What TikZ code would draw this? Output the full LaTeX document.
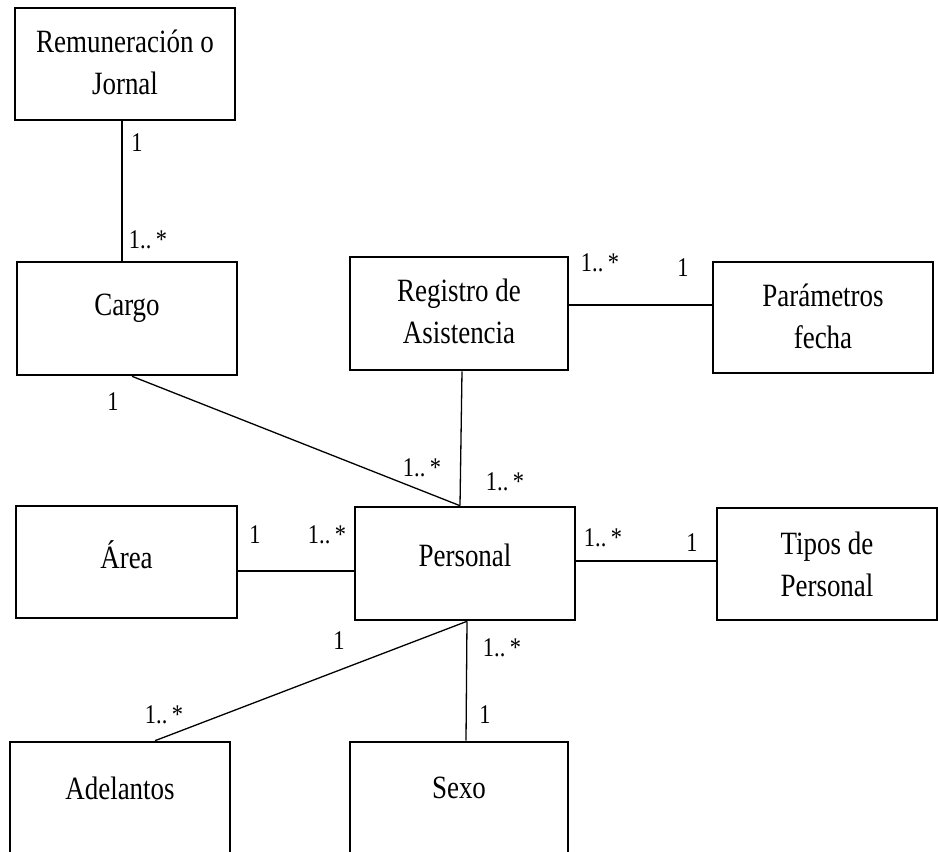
\documentclass[tikz,border=0pt]{standalone}
\usepackage{fontspec}
\newfontfamily\tnr[FakeStretch=0.83]{Liberation Serif}
\begin{document}
\begin{tikzpicture}[x=1pt,y=-1pt,
  ent/.style={draw, line width=2.6pt, inner sep=0pt, minimum width=220pt, minimum height=112pt},
  txt/.style={inner sep=0pt, align=center, font=\tnr\fontsize{32.5}{42}\selectfont},
  mult/.style={inner sep=0pt, font=\tnr\fontsize{27}{30}\selectfont},
  conn/.style={line width=1.3pt}]
\useasboundingbox (0,0) rectangle (938,852);
% boxes
\node[ent] (rem) at (125,64) {};
\node[ent, minimum height=113pt] (cargo) at (127,318.5) {};
\node[ent, minimum width=218pt, minimum height=113pt] (reg) at (459,313.5) {};
\node[ent, minimum height=111pt] (par) at (823,317.5) {};
\node[ent, minimum width=221pt] (area) at (126.5,562) {};
\node[ent, minimum height=113pt] (pers) at (465,563.5) {};
\node[ent] (tipos) at (827,564) {};
\node[ent, minimum height=138pt] (adel) at (120,811) {};
\node[ent, minimum width=218pt, minimum height=138pt] (sexo) at (459,811) {};
% texts
\node[txt] (trem) at (125,62) {Remuneración o\\Jornal};
\node[txt] (tcargo) at (127,308) {Cargo};
\node[txt] (treg) at (459,311) {Registro de\\Asistencia};
\node[txt] (tpar) at (823,316) {Parámetros\\fecha};
\node[txt] (tarea) at (126.5,555) {Área};
\node[txt] (tpers) at (465,555) {Personal};
\node[txt] (ttipos) at (827,564) {Tipos de\\Personal};
\node[txt] (tadel) at (120,788) {Adelantos};
\node[txt] (tsexo) at (459,788) {Sexo};
% connectors
\draw[conn] ([xshift=-3pt]rem.south) -- ([xshift=-5pt]cargo.north);
\draw[conn] ([xshift=5pt]cargo.south) -- ([xshift=-5pt]pers.north);
\draw[conn] ([xshift=3pt]reg.south) -- ([xshift=-5pt]pers.north);
\draw[conn] ([yshift=8.5pt]reg.east) -- ([yshift=12.5pt]par.west);
\draw[conn] ([yshift=-9pt]area.east) -- ([yshift=-7.5pt]pers.west);
\draw[conn] ([yshift=2.5pt]pers.east) -- ([yshift=3pt]tipos.west);
\draw[conn] ([xshift=2pt]pers.south) -- ([xshift=35pt]adel.north);
\draw[conn] ([xshift=2pt]pers.south) -- ([xshift=7pt]sexo.north);
% multiplicities
\node[mult] (m1) at (137,143) {1};
\node[mult] (m2) at (148,240) {1..\,*};
\node[mult] (m3) at (113,402) {1};
\node[mult] (m4) at (422,468) {1..\,*};
\node[mult] (m5) at (505,482) {1..\,*};
\node[mult] (m6) at (600,263) {1..\,*};
\node[mult] (m7) at (683,268) {1};
\node[mult] (m8) at (255,535) {1};
\node[mult] (m9) at (327,535) {1..\,*};
\node[mult] (m10) at (603,538) {1..\,*};
\node[mult] (m11) at (692,543) {1};
\node[mult] (m12) at (339,641) {1};
\node[mult] (m13) at (164,715) {1..\,*};
\node[mult] (m14) at (502,648) {1..\,*};
\node[mult] (m15) at (485,715) {1};
\end{tikzpicture}
\end{document}
